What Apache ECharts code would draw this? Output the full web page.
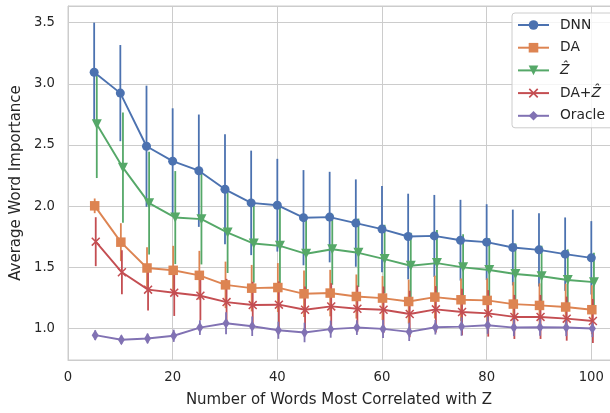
<!DOCTYPE html>
<html>
<head>
<meta charset="utf-8">
<script src="https://cdn.jsdelivr.net/npm/echarts@6/dist/echarts.min.js"></script>
<style>html,body{margin:0;padding:0;background:#fff;overflow:hidden;width:610px;height:413px}#c{width:618px;height:413px}</style>
</head>
<body>
<div id="c"></div>
<script>
// ---- data ----
const xValues = [5,10,15,20,25,30,35,40,45,50,55,60,65,70,75,80,85,90,95,100];
const xTicks = [0,20,40,60,80,100];
const yTicks = [1.0,1.5,2.0,2.5,3.0,3.5];
const seriesNames = ['DNN','DA','Ẑ','DA+Ẑ','Oracle'];

const dnnMean = [3.095,2.924,2.49,2.368,2.29,2.138,2.027,2.008,1.906,1.911,1.862,1.813,1.752,1.757,1.722,1.706,1.662,1.643,1.608,1.578];
const dnnErr  = [0.405,0.393,0.495,0.432,0.459,0.449,0.427,0.379,0.389,0.37,0.357,0.352,0.35,0.335,0.33,0.31,0.31,0.30,0.30,0.30];
const daMean  = [2.003,1.706,1.495,1.476,1.435,1.357,1.33,1.335,1.284,1.29,1.262,1.249,1.221,1.257,1.235,1.23,1.20,1.189,1.176,1.154];
const daErr   = [0.06,0.155,0.17,0.2,0.2,0.19,0.19,0.2,0.19,0.19,0.18,0.18,0.18,0.175,0.175,0.18,0.18,0.18,0.19,0.2];
const zMean   = [2.67,2.315,2.025,1.907,1.894,1.784,1.695,1.676,1.611,1.648,1.619,1.568,1.513,1.535,1.50,1.478,1.446,1.427,1.397,1.379];
const zErr    = [0.44,0.45,0.42,0.38,0.37,0.33,0.32,0.31,0.29,0.29,0.28,0.28,0.27,0.27,0.27,0.26,0.25,0.25,0.25,0.24];
const dazMean = [1.71,1.46,1.318,1.293,1.268,1.216,1.192,1.195,1.154,1.181,1.162,1.154,1.119,1.157,1.135,1.124,1.095,1.095,1.081,1.062];
const dazErr  = [0.2,0.18,0.17,0.19,0.2,0.19,0.19,0.19,0.19,0.19,0.19,0.19,0.19,0.19,0.19,0.19,0.18,0.18,0.18,0.18];
const oracleMean = [0.946,0.908,0.919,0.941,1.008,1.043,1.019,0.986,0.968,0.995,1.008,0.997,0.973,1.011,1.016,1.027,1.008,1.011,1.008,1.0];
const oracleErr  = [0.04,0.035,0.04,0.05,0.06,0.09,0.08,0.07,0.08,0.07,0.06,0.075,0.075,0.06,0.075,0.07,0.07,0.07,0.07,0.07];
// small horizontal jitter of each series (x units)
const xShift = [0, 0.1, 0.5, 0.3, 0.2];

// ---- styles ----
const colors = ['#4C72B0','#DD8452','#55A868','#C44E52','#8172B3'];
const xPath = 'path://M0,1.2 L1.2,0 L10,8.8 L8.8,10 Z M8.8,0 L10,1.2 L1.2,10 L0,8.8 Z';
const symbols = ['circle','rect','triangle',xPath,'diamond'];
const symbolSizes = [9, 9.5, 10, 9, [7,11]];
const symbolRotates = [0, 0, 180, 0, 0];
const means = [dnnMean, daMean, zMean, dazMean, oracleMean];
const errs = [dnnErr, daErr, zErr, dazErr, oracleErr];
const FONT = 'DejaVu Sans';
const TXT = '#262626';

const series = [];
// error bars first (drawn below all lines)
means.forEach((m, s) => {
  series.push({
    type: 'custom',
    z: 1,
    silent: true,
    encode: {x: 0, y: [1, 2]},
    data: xValues.map((x, i) => [x + xShift[s], m[i] - errs[s][i], m[i] + errs[s][i]]),
    renderItem: (params, api) => {
      const p1 = api.coord([api.value(0), api.value(1)]);
      const p2 = api.coord([api.value(0), api.value(2)]);
      return {type: 'line', shape: {x1: p1[0], y1: p1[1], x2: p2[0], y2: p2[1]},
              style: {stroke: colors[s], lineWidth: 1.8}};
    }
  });
});
means.forEach((m, s) => {
  series.push({
    name: seriesNames[s],
    type: 'line',
    z: 2,
    data: xValues.map((x, i) => [x + xShift[s], m[i]]),
    symbol: symbols[s],
    symbolSize: symbolSizes[s],
    symbolRotate: symbolRotates[s],
    showAllSymbol: true,
    lineStyle: {color: colors[s], width: 1.9},
    itemStyle: {color: colors[s]},
    emphasis: {disabled: true}
  });
});

const chart = echarts.init(document.getElementById('c'), null, {renderer: 'canvas'});
chart.setOption({
  animation: false,
  backgroundColor: '#fff',
  grid: {left: 68, top: 6, bottom: 50, right: 0, show: true, borderColor: '#cccccc', borderWidth: 1, containLabel: false},
  xAxis: {
    type: 'value', min: 0, max: 105.1, interval: 20,
    name: 'Number of Words Most Correlated with Z', nameLocation: 'middle', nameGap: 33,
    nameTextStyle: {fontFamily: FONT, fontSize: 15, color: TXT, padding: [0, 8, 0, 0]},
    axisLine: {show: true, lineStyle: {color: '#cccccc', width: 1}},
    axisTick: {show: false},
    axisLabel: {fontFamily: FONT, fontSize: 13.2, color: TXT, margin: 11, showMaxLabel: false,
      formatter: v => xTicks.includes(v) ? String(v) : ''},
    splitLine: {show: true, lineStyle: {color: '#cccccc', width: 1}}
  },
  yAxis: {
    type: 'value', min: 0.743, max: 3.636, splitNumber: 5,
    name: 'Average Word Importance', nameLocation: 'middle', nameGap: 44,
    nameTextStyle: {fontFamily: FONT, fontSize: 15, color: TXT},
    axisLine: {show: true, lineStyle: {color: '#cccccc', width: 1}},
    axisTick: {show: false},
    axisLabel: {fontFamily: FONT, fontSize: 13.2, color: TXT, margin: 13, showMinLabel: false, showMaxLabel: false,
      formatter: v => yTicks.some(t => Math.abs(t - v) < 1e-6) ? v.toFixed(1) : ''},
    splitLine: {show: true, lineStyle: {color: '#cccccc', width: 1}}
  },
  legend: {
    data: seriesNames,
    orient: 'vertical',
    left: 512, top: 13,
    itemWidth: 31, itemHeight: 12, itemGap: 8.7,
    padding: [5, 18, 5, 5],
    backgroundColor: 'rgba(255,255,255,0.8)',
    borderColor: '#cccccc', borderWidth: 1, borderRadius: 3,
    textStyle: {fontFamily: FONT, fontSize: 13.8, color: TXT, lineHeight: 14, padding: [0,0,0,6],
      rich: {i: {fontFamily: FONT, fontSize: 13.8, fontStyle: 'italic', color: TXT, lineHeight: 14}}},
    formatter: name => name.replace('Ẑ', '{i|Ẑ}'),
    selectedMode: false
  },
  series: series
});
</script>
</body>
</html>
